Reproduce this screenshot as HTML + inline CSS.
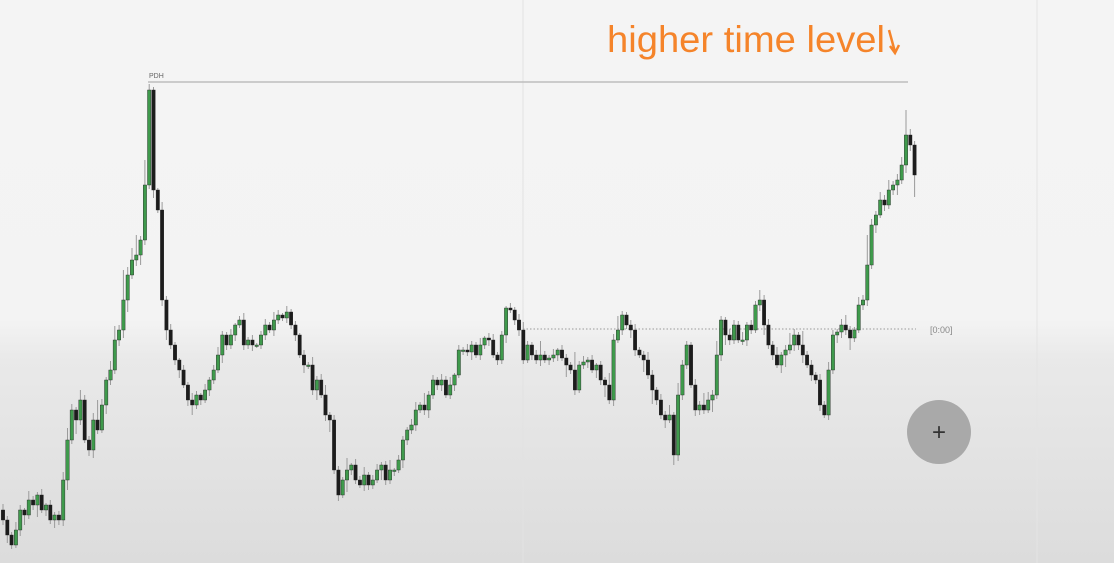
<!DOCTYPE html>
<html><head><meta charset="utf-8"><style>
html,body{margin:0;padding:0;width:1114px;height:563px;overflow:hidden;font-family:"Liberation Sans",sans-serif}
#bg{position:absolute;left:0;top:0;width:1114px;height:563px;background:linear-gradient(to bottom,#f4f4f4 0px,#f3f3f3 320px,#e9e9e9 360px,#dcdcdc 563px)}
svg{position:absolute;left:0;top:0}
</style></head><body>
<div id="bg"></div>
<svg id="chart" width="1114" height="563">
<line x1="523" y1="0" x2="523" y2="563" stroke="#e2e2e2" stroke-width="1"/>
<line x1="1037" y1="0" x2="1037" y2="563" stroke="#e4e4e4" stroke-width="1"/>
<line x1="148" y1="82" x2="908" y2="82" stroke="#bdbdbd" stroke-width="1.5"/>
<text x="149" y="78" font-size="7" fill="#666">PDH</text>
<line x1="523" y1="329" x2="916" y2="329" stroke="#9a9a9a" stroke-width="1" stroke-dasharray="1.5,2"/>
<text x="930" y="333" font-size="9" fill="#888">[0:00]</text>
<text x="607" y="52" font-size="37" fill="#f5842a" textLength="278" lengthAdjust="spacingAndGlyphs">higher time level</text>
<path d="M889 30 L895 52 M890 46 L895 53 L899 45" stroke="#f5842a" stroke-width="2.5" fill="none"/>
<g id="candles"></g>
<circle cx="939" cy="432" r="32" fill="#a9a9a9"/>
<text x="939" y="440" font-size="24" fill="#333" text-anchor="middle">+</text>
</svg>
<script>
const firstOpen = 90;
const closes = [80,65,55,70,90,85,100,95,105,90,95,80,85,80,
120,160,190,180,200,160,150,180,170,195,220,230,
260,270,300,325,340,345,360,415,510,410,390,300,270,255,240,230,215,200,195,205,200,210,220,230,245,265,255,265,275,280,255,260,255,255,265,275,270,280,285,282,288,275,265,245,235,235,210,220,205,185,180,130,105,120,130,135,120,115,125,115,120,130,135,120,130,130,140,160,170,175,190,195,190,205,220,215,220,205,215,225,250,250,248,255,245,255,262,260,245,240,265,292,290,280,270,240,255,245,240,245,240,242,245,250,242,235,230,210,235,238,240,230,235,220,215,200,260,270,285,275,270,250,245,240,225,210,200,185,180,185,145,205,235,255,215,190,195,190,200,205,245,280,265,260,275,260,260,275,270,295,300,275,255,245,235,245,250,255,265,255,245,235,225,220,195,185,230,265,268,275,270,262,270,295,300,335,375,385,400,395,410,415,420,435,465,455,425];
const wickUp = [6,4,3,8,5,2,9,4,3,6,2,5,3,4,8,12,6,3,10,5,4,7,20,6,3,9,14,5,30,8,12,20,4,25,6,3,2,8,4,6,3,2,5,3,7,4,2,6,3,5,8,4,3,6,2,4,7,3,5,2,4,6,3,8,5,2,6,3,4,2,5,3,8,4,6,10,3,5,4,3,12,2,6,4,8,3,5,6,3,4,10,2,5,4,3,6,8,3,12,4,5,3,6,4,8,2,5,3,6,4,3,7,2,5,6,3,4,2,5,3,6,8,4,3,5,14,4,3,6,2,5,4,3,18,4,6,3,5,2,4,3,12,6,14,4,3,5,6,3,4,8,5,3,6,4,10,3,12,5,4,3,6,4,12,8,5,14,4,3,6,5,4,8,3,5,4,10,5,6,4,8,3,5,12,6,3,14,4,5,3,6,4,8,5,3,6,10,4,3,8,5,30,6,4,8,5,10,4,6,8,25,6,4];
const wickDn = [5,8,4,3,6,10,4,5,12,3,6,4,8,5,6,10,4,14,5,3,6,8,4,3,9,5,4,6,8,12,4,6,10,5,4,8,3,6,10,4,5,8,3,6,10,4,5,3,6,4,3,8,5,4,6,3,5,4,6,3,4,5,3,6,4,3,5,4,6,3,8,4,5,10,3,6,12,4,6,3,12,5,4,3,6,5,4,3,10,5,4,6,3,8,5,4,6,3,5,8,4,5,6,3,4,6,3,5,4,8,3,5,4,6,3,5,4,8,3,5,6,4,3,5,4,6,3,5,4,6,3,12,4,5,3,4,6,3,8,5,12,4,6,3,5,4,8,6,3,12,4,14,5,4,8,3,10,6,5,4,3,6,5,4,3,12,4,6,10,5,4,3,5,6,4,3,6,10,4,5,3,8,12,4,6,5,8,3,6,4,6,3,5,4,8,6,5,12,4,3,5,6,4,8,3,6,4,5,10,4,8,6,22];
function xScale(i){return 3+i*4.3;}
function yScale(p){return 600-p;}
const g=document.getElementById('candles');
const NS='http://www.w3.org/2000/svg';
let prev=firstOpen;
for(let i=0;i<closes.length;i++){
  const o=prev,c=closes[i];
  const hi=Math.max(o,c)+wickUp[i],lo=Math.min(o,c)-wickDn[i];
  const x=xScale(i);
  const col=c>=o?'#3f9a4c':'#1c1c1c';
  const w=document.createElementNS(NS,'line');
  w.setAttribute('x1',x);w.setAttribute('x2',x);
  w.setAttribute('y1',yScale(hi));w.setAttribute('y2',yScale(lo));
  w.setAttribute('stroke','#9a9a9a');w.setAttribute('stroke-width','1');
  
  
  g.appendChild(w);
  const r=document.createElementNS(NS,'rect');
  const top=yScale(Math.max(o,c)),bot=yScale(Math.min(o,c));
  r.setAttribute('x',x-1.7);r.setAttribute('width',3.4);
  r.setAttribute('y',top);r.setAttribute('height',Math.max(1.5,bot-top));
  r.setAttribute('fill',col);r.setAttribute('stroke','#222');r.setAttribute('stroke-width','0.4');
  
  
  g.appendChild(r);
  prev=c;
}
</script>
</body></html>
